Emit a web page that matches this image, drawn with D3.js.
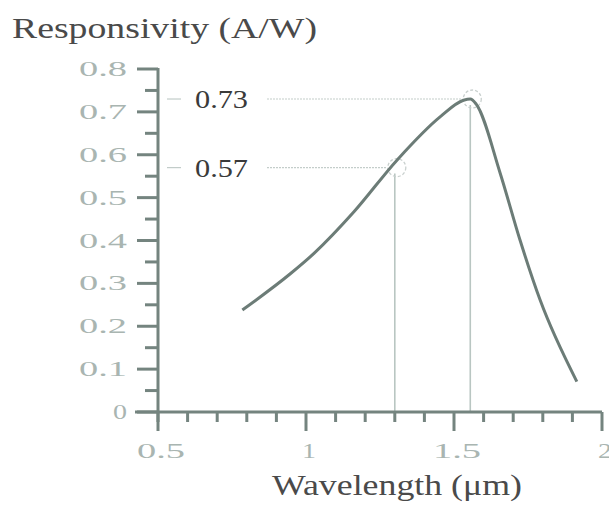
<!DOCTYPE html>
<html>
<head>
<meta charset="utf-8">
<script src="https://cdn.jsdelivr.net/npm/d3@7"></script>
<style>
  body { margin: 0; background: #fff; }
  svg { display: block; }
</style>
</head>
<body>
<svg id="chart" width="609" height="511"></svg>
<script>
// responsivity curve
const wavelength = [0.785, 0.948, 1.027, 1.162, 1.308, 1.454, 1.532, 1.555, 1.575, 1.656, 1.723, 1.791, 1.915];
const responsivity = [0.238, 0.323, 0.370, 0.467, 0.588, 0.689, 0.727, 0.730, 0.718, 0.557, 0.401, 0.261, 0.071];

// marked points
const markX = [1.3, 1.555];
const markY = [0.57, 0.73];
const markLabels = ['0.57', '0.73'];

const xTicks = [0.5, 1, 1.5, 2];
const xTickLabels = ['0.5', '1', '1.5', '2'];
const yTicks = [0, 0.1, 0.2, 0.3, 0.4, 0.5, 0.6, 0.7, 0.8];
const yTickLabels = ['0', '0.1', '0.2', '0.3', '0.4', '0.5', '0.6', '0.7', '0.8'];

const axisColor = '#74847f';
const labelColor = '#a9b5b1';
const serif = '"Liberation Serif", "DejaVu Serif", serif';

const svg = d3.select('#chart');
const x = d3.scaleLinear().domain([0.5, 2]).range([158, 602]);
const y = d3.scaleLinear().domain([0, 0.8]).range([412, 69]);

// tick label width is stretched in the original, roughly per character
const labelWidth = s => s.length === 1 ? 14 : s.length * 16;

// guide lines to the marked points
const marks = markX.map((v, i) => ({ x: v, y: markY[i], label: markLabels[i] }));

svg.selectAll('.vline').data(marks).enter().append('line')
  .attr('x1', d => x(d.x)).attr('x2', d => x(d.x))
  .attr('y1', d => y(d.y) + 6).attr('y2', y(0))
  .attr('stroke', '#b9c6c2').attr('stroke-width', 1.6);

svg.selectAll('.hstub').data(marks).enter().append('line')
  .attr('x1', x(0.5) + 9).attr('x2', x(0.5) + 23)
  .attr('y1', d => y(d.y)).attr('y2', d => y(d.y))
  .attr('stroke', '#c2ccc9').attr('stroke-width', 1.2);

svg.selectAll('.hdot').data(marks).enter().append('line')
  .attr('x1', x(0.5) + 109).attr('x2', d => x(d.x) - 8)
  .attr('y1', d => y(d.y)).attr('y2', d => y(d.y))
  .attr('stroke', '#c4cdca').attr('stroke-width', 1.2)
  .attr('stroke-dasharray', '2,1');

svg.selectAll('.mlabel').data(marks).enter().append('text')
  .attr('x', x(0.5) + 37).attr('y', d => y(d.y) + 9)
  .attr('font-family', serif).attr('font-size', 25).attr('fill', '#3a3a3a')
  .attr('textLength', 53).attr('lengthAdjust', 'spacingAndGlyphs')
  .text(d => d.label);

svg.selectAll('.mcircle').data(marks).enter().append('circle')
  .attr('cx', d => x(d.x) + 2).attr('cy', d => y(d.y))
  .attr('r', 9).attr('fill', 'none')
  .attr('stroke', '#c9d0ce').attr('stroke-width', 1.3)
  .attr('stroke-dasharray', '3,2');

// curve
const line = d3.line().x(d => x(d[0])).y(d => y(d[1])).curve(d3.curveMonotoneX);
svg.append('path')
  .datum(wavelength.map((w, i) => [w, responsivity[i]]))
  .attr('d', line)
  .attr('fill', 'none').attr('stroke', '#6c7c77').attr('stroke-width', 3)
  .attr('stroke-linejoin', 'round');

// y axis
const yMinor = d3.range(0, 0.8001, 0.05);
svg.selectAll('.ytick').data(yMinor).enter().append('line')
  .attr('x1', d => Math.round(d * 100) % 10 === 0 ? x(0.5) - 21 : x(0.5) - 13)
  .attr('x2', x(0.5))
  .attr('y1', d => y(d)).attr('y2', d => y(d))
  .attr('stroke', axisColor).attr('stroke-width', 3);
svg.append('line')
  .attr('x1', x(0.5)).attr('x2', x(0.5))
  .attr('y1', y(0.8) - 1).attr('y2', y(0) + 10)
  .attr('stroke', axisColor).attr('stroke-width', 3);
svg.selectAll('.ylabel').data(yTicks).enter().append('text')
  .attr('x', x(0.5) - 31).attr('y', d => y(d) + 7)
  .attr('text-anchor', 'end')
  .attr('font-family', serif).attr('font-size', 22).attr('fill', labelColor)
  .attr('textLength', (d, i) => labelWidth(yTickLabels[i]))
  .attr('lengthAdjust', 'spacingAndGlyphs')
  .text((d, i) => yTickLabels[i]);

// x axis
const xMinor = d3.range(0.5, 2.0001, 0.1);
svg.selectAll('.xtick').data(xMinor).enter().append('line')
  .attr('x1', d => x(d)).attr('x2', d => x(d))
  .attr('y1', y(0))
  .attr('y2', d => Math.round(d * 10) % 5 === 0 ? y(0) + 19 : y(0) + 10)
  .attr('stroke', axisColor).attr('stroke-width', 3);
svg.append('line')
  .attr('x1', x(0.5) - 23).attr('x2', x(2))
  .attr('y1', y(0)).attr('y2', y(0))
  .attr('stroke', axisColor).attr('stroke-width', 3);
svg.selectAll('.xlabel').data(xTicks).enter().append('text')
  .attr('x', d => x(d) + 3).attr('y', y(0) + 46)
  .attr('text-anchor', 'middle')
  .attr('font-family', serif).attr('font-size', 22).attr('fill', labelColor)
  .attr('textLength', (d, i) => labelWidth(xTickLabels[i]))
  .attr('lengthAdjust', 'spacingAndGlyphs')
  .text((d, i) => xTickLabels[i]);

// titles
svg.append('text')
  .attr('x', 12).attr('y', 38)
  .attr('font-family', serif).attr('font-size', 30).attr('fill', '#4a4a4a')
  .attr('textLength', 305).attr('lengthAdjust', 'spacingAndGlyphs')
  .text('Responsivity (A/W)');
svg.append('text')
  .attr('x', 272).attr('y', 495)
  .attr('font-family', serif).attr('font-size', 29).attr('fill', '#4a4a4a')
  .attr('textLength', 250).attr('lengthAdjust', 'spacingAndGlyphs')
  .text('Wavelength (μm)');
</script>
</body>
</html>
